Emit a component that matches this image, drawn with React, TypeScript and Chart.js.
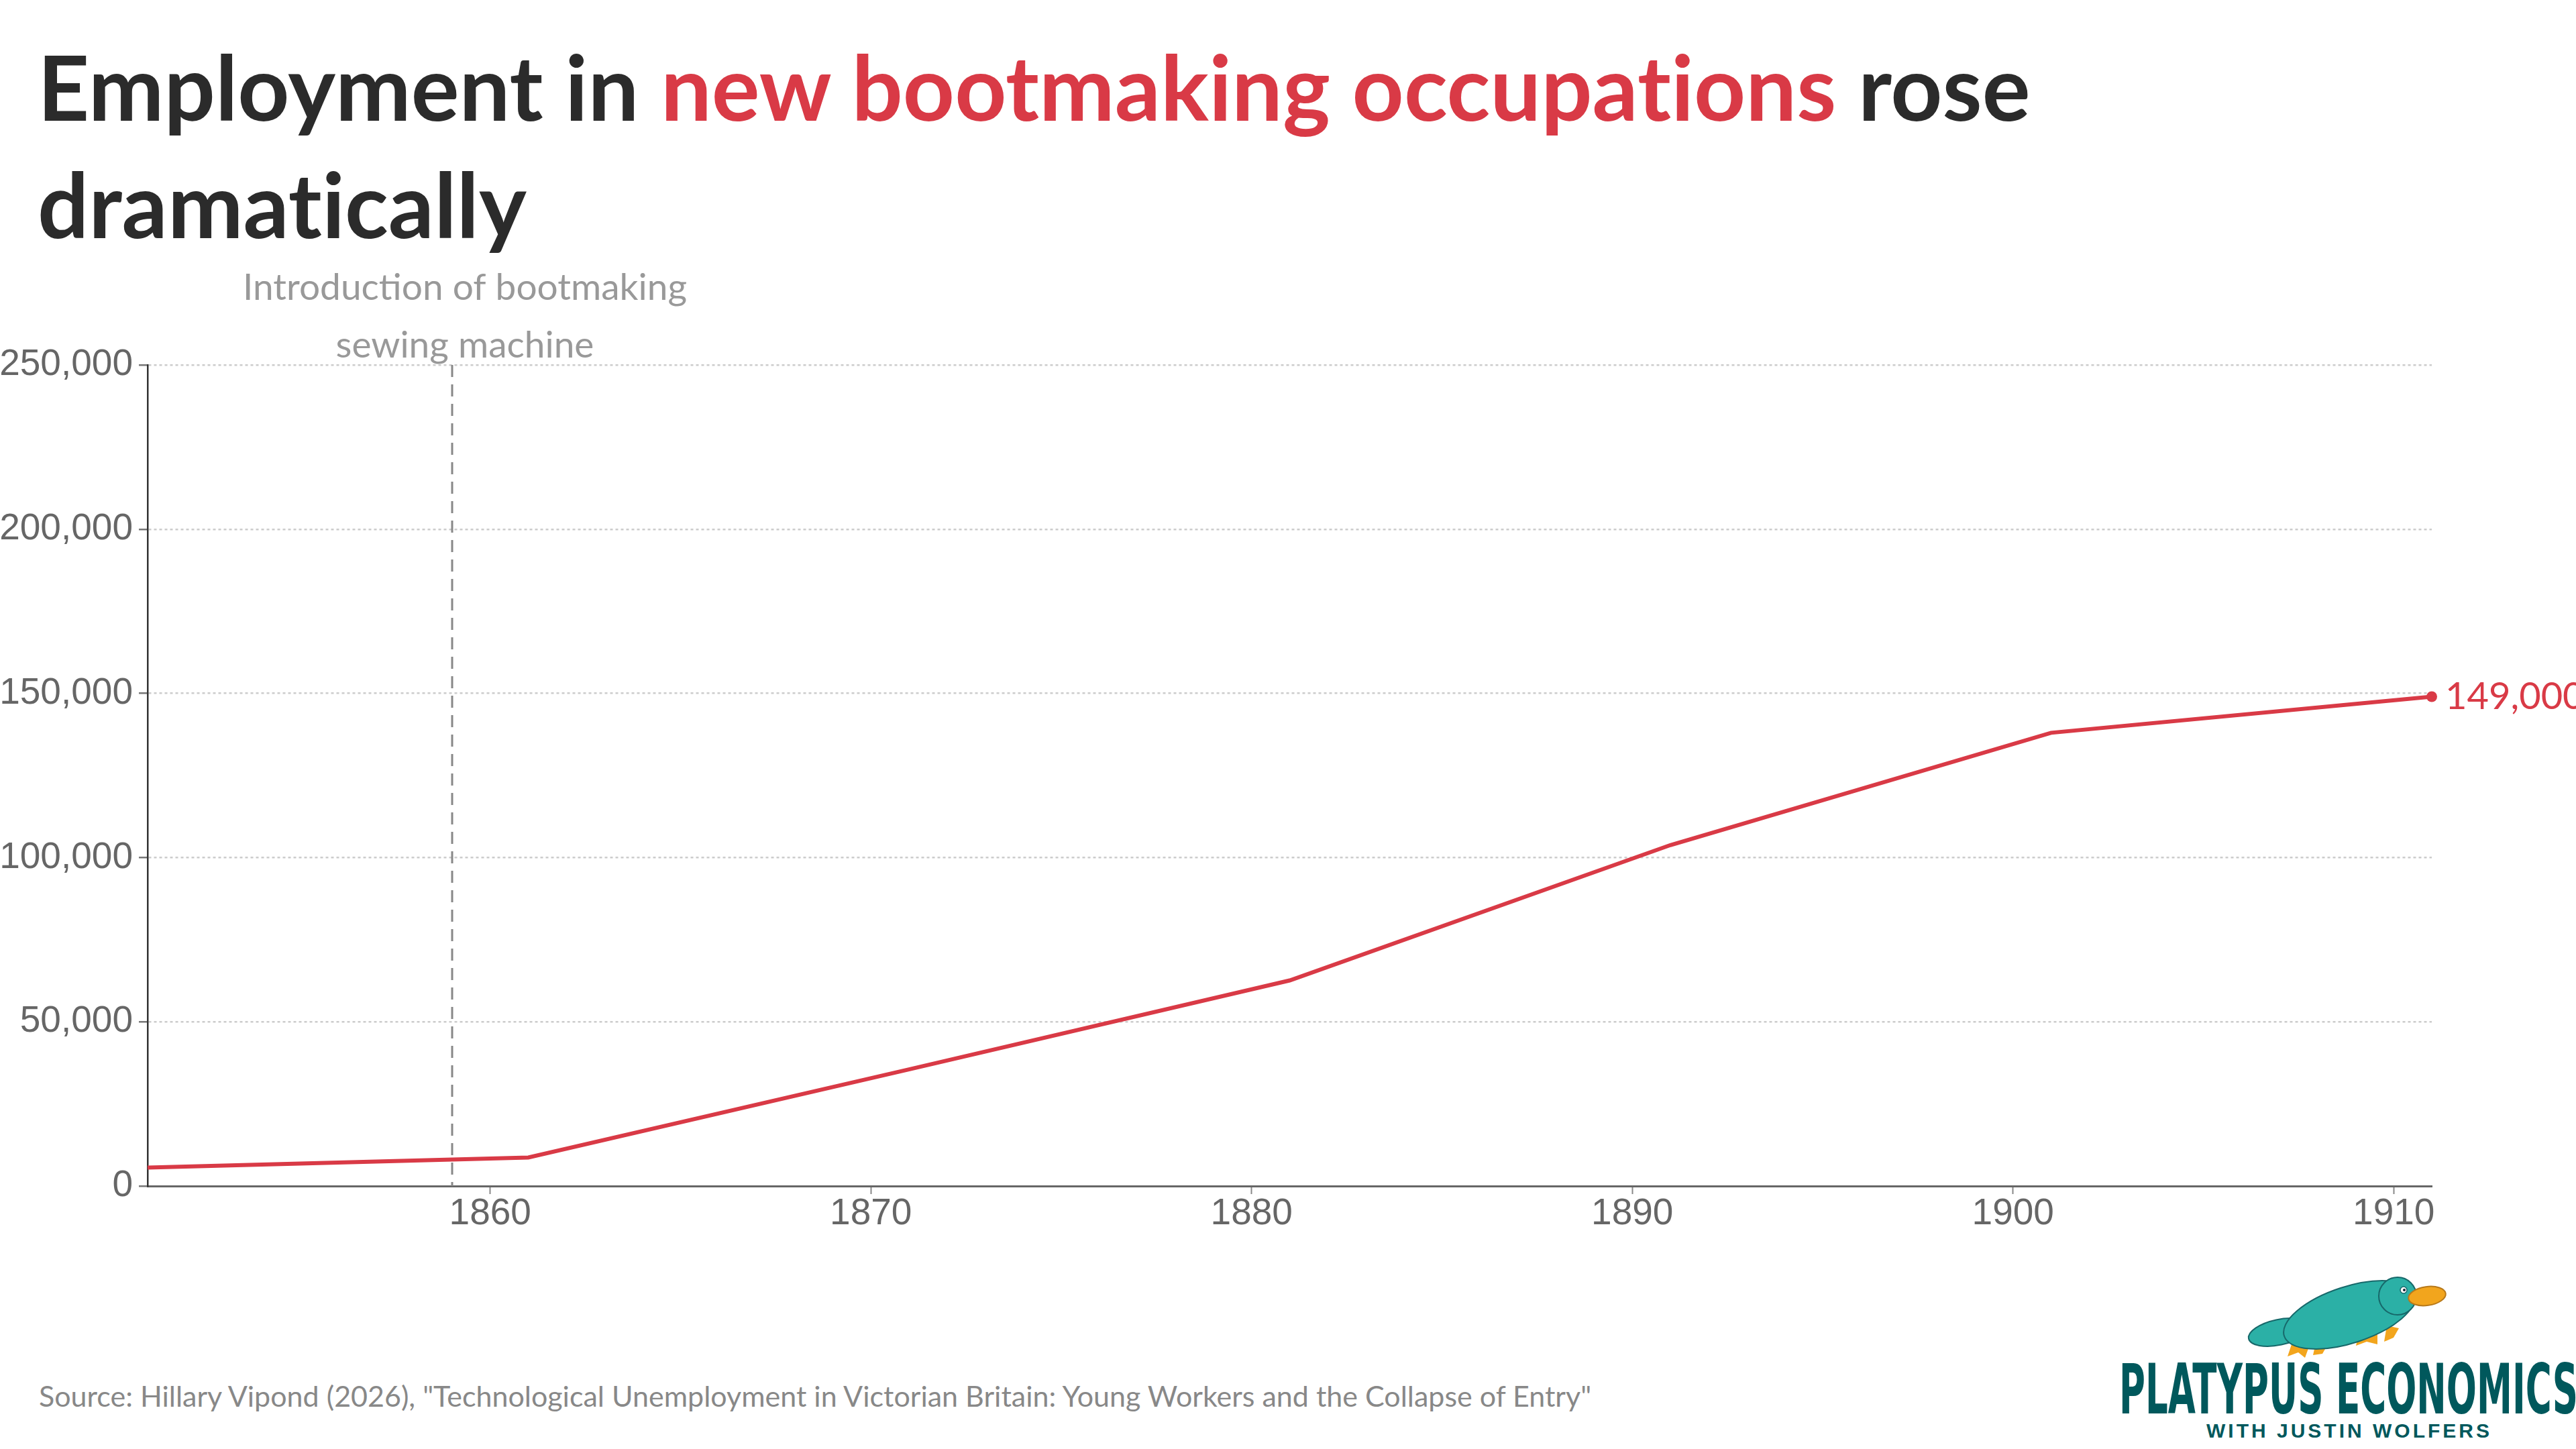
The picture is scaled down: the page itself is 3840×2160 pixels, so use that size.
import { useEffect, useRef } from 'react';
import { Chart, registerables } from 'chart.js';

Chart.register(...registerables);

// census years and employment in new bootmaking occupations
const years = [1851, 1861, 1871, 1881, 1891, 1901, 1911];
const employment = [5600, 8700, 35500, 62600, 103800, 138000, 149000];

const xTicks = [1860, 1870, 1880, 1890, 1900, 1910];
const yTicks = [0, 50000, 100000, 150000, 200000, 250000];

const machineYear = 1859;
const machineLabel = ['Introduction of bootmaking', 'sewing machine'];

const RED = '#d93a46';
const TEAL = '#00585c';

const annotations = {
  id: 'annotations',
  beforeDatasetsDraw(chart: Chart) {
    const { ctx, chartArea, scales } = chart;
    const x = scales.x.getPixelForValue(machineYear);
    ctx.save();
    ctx.strokeStyle = '#888';
    ctx.lineWidth = 3;
    ctx.setLineDash([18, 11]);
    ctx.beginPath();
    ctx.moveTo(x, chartArea.top);
    ctx.lineTo(x, chartArea.bottom);
    ctx.stroke();
    ctx.restore();
  },
  afterDatasetsDraw(chart: Chart) {
    const { ctx, chartArea, scales } = chart;
    const x = scales.x.getPixelForValue(machineYear);
    ctx.save();
    ctx.fillStyle = '#999';
    ctx.font = '55px Lato';
    ctx.textAlign = 'center';
    ctx.textBaseline = 'alphabetic';
    ctx.fillText(machineLabel[0], x + 19, chartArea.top - 97);
    ctx.fillText(machineLabel[1], x + 19, chartArea.top - 11);

    // value label at the last point
    const last = years.length - 1;
    const px = scales.x.getPixelForValue(years[last]);
    const py = scales.y.getPixelForValue(employment[last]);
    ctx.fillStyle = RED;
    ctx.font = '56px Lato';
    ctx.textAlign = 'left';
    ctx.textBaseline = 'middle';
    ctx.fillText(employment[last].toLocaleString('en-US'), px + 20, py);
    ctx.restore();
  },
};

function Logo() {
  return (
    <svg width={690} height={260} style={{ position: 'absolute', left: 3150, top: 1900 }}>
      {/* tail */}
      <ellipse cx={247} cy={86} rx={46} ry={19} transform="rotate(-12 247 86)" fill="#2bb0a6" stroke="#17686a" strokeWidth={2} />
      {/* feet */}
      <path d="M268 98 L260 122 L276 116 L286 124 L294 102 Z" fill="#f2a51d" />
      <path d="M302 102 L298 120 L312 118 L320 104 Z" fill="#f2a51d" />
      <path d="M368 80 L362 106 L378 100 L394 104 L394 84 Z" fill="#f2a51d" />
      <path d="M408 76 L404 100 L418 94 L426 80 Z" fill="#f2a51d" />
      {/* body */}
      <ellipse cx={352} cy={60} rx={102} ry={42} transform="rotate(-18 352 60)" fill="#2bb0a6" stroke="#17686a" strokeWidth={2} />
      {/* head */}
      <circle cx={424} cy={32} r={28} fill="#2bb0a6" stroke="#17686a" strokeWidth={2} />
      {/* bill */}
      <ellipse cx={468} cy={32} rx={28} ry={14} transform="rotate(-8 468 32)" fill="#f2a51d" stroke="#b7791a" strokeWidth={2} />
      {/* eye */}
      <circle cx={433} cy={23} r={5} fill="#fff" stroke="#17686a" strokeWidth={1.5} />
      <circle cx={434} cy={23} r={2} fill="#123" />
      <text
        x={9}
        y={207}
        textLength={684}
        lengthAdjust="spacingAndGlyphs"
        style={{ font: 'bold 103px "Liberation Sans Narrow", "DejaVu Sans Condensed", sans-serif', fill: TEAL }}
      >
        PLATYPUS ECONOMICS
      </text>
      <text
        x={139}
        y={243}
        textLength={422}
        lengthAdjust="spacing"
        style={{ font: 'bold 30px "Liberation Sans", sans-serif', fill: TEAL }}
      >
        WITH JUSTIN WOLFERS
      </text>
    </svg>
  );
}

export default function App() {
  const canvasRef = useRef<HTMLCanvasElement>(null);
  const chartRef = useRef<Chart | null>(null);

  useEffect(() => {
    if (!canvasRef.current) return;
    if (chartRef.current) chartRef.current.destroy();

    chartRef.current = new Chart(canvasRef.current, {
      type: 'line',
      data: {
        datasets: [
          {
            data: years.map((x, i) => ({ x, y: employment[i] })),
            borderColor: RED,
            backgroundColor: RED,
            borderWidth: 6,
            tension: 0,
            pointRadius: (ctx: any) => (ctx.dataIndex === years.length - 1 ? 8 : 0),
            pointBackgroundColor: RED,
            pointBorderWidth: 0,
            clip: false as any,
          },
        ],
      },
      options: {
        animation: false,
        responsive: true,
        maintainAspectRatio: false,
        layout: { padding: { top: 164, right: 215, bottom: 0, left: 0 } },
        plugins: {
          legend: { display: false },
          tooltip: { enabled: false },
        },
        scales: {
          x: {
            type: 'linear',
            min: 1851,
            max: 1911,
            afterBuildTicks: (s: any) => {
              s.ticks = xTicks.map((value) => ({ value }));
            },
            afterFit: (s: any) => {
              s.height = 132;
            },
            ticks: {
              color: '#666',
              font: { family: 'Liberation Sans', size: 55 },
              padding: -3,
              maxRotation: 0,
              autoSkip: false,
              callback: (v: any) => String(v),
            },
            grid: {
              drawOnChartArea: false,
              drawTicks: true,
              tickLength: 12,
              tickColor: '#888',
              tickWidth: 2,
            },
            border: { display: true, color: '#666', width: 3 },
          },
          y: {
            min: 0,
            max: 250000,
            afterBuildTicks: (s: any) => {
              s.ticks = yTicks.map((value) => ({ value }));
            },
            afterFit: (s: any) => {
              s.width = 220;
            },
            ticks: {
              color: '#666',
              font: { family: 'Liberation Sans', size: 55 },
              padding: 9,
              callback: (v: any) => Number(v).toLocaleString('en-US'),
            },
            grid: {
              color: '#cccccc',
              lineWidth: 2.5,
              tickLength: 13,
              tickColor: '#777',
              tickWidth: 2.5,
              tickBorderDash: [],
            },
            border: { display: true, color: '#333', width: 2.5, dash: [4, 4] },
          },
        },
      },
      plugins: [annotations],
    });

    return () => {
      if (chartRef.current) {
        chartRef.current.destroy();
        chartRef.current = null;
      }
    };
  }, []);

  return (
    <div style={{ position: 'absolute', left: 0, top: 0, width: 3840, height: 2160, overflow: 'hidden', background: '#fff' }}>
      <div
        style={{
          position: 'absolute',
          left: 56,
          top: 41,
          whiteSpace: 'nowrap',
          font: 'bold 134.5px Lato',
          fontVariantLigatures: 'none',
          lineHeight: '175px',
          color: '#2b2b2b',
        }}
      >
        Employment in <span style={{ color: RED }}>new bootmaking occupations</span> rose
        <br />
        dramatically
      </div>
      <div style={{ position: 'absolute', left: 0, top: 380, width: 3840, height: 1520 }}>
        <canvas ref={canvasRef} />
      </div>
      <div
        style={{
          position: 'absolute',
          left: 58,
          top: 2055,
          whiteSpace: 'nowrap',
          font: '43px Lato',
          fontVariantLigatures: 'none',
          lineHeight: 1.2,
          color: '#888',
        }}
      >
        Source: Hillary Vipond (2026), "Technological Unemployment in Victorian Britain: Young Workers and the Collapse of Entry"
      </div>
      <Logo />
    </div>
  );
}
